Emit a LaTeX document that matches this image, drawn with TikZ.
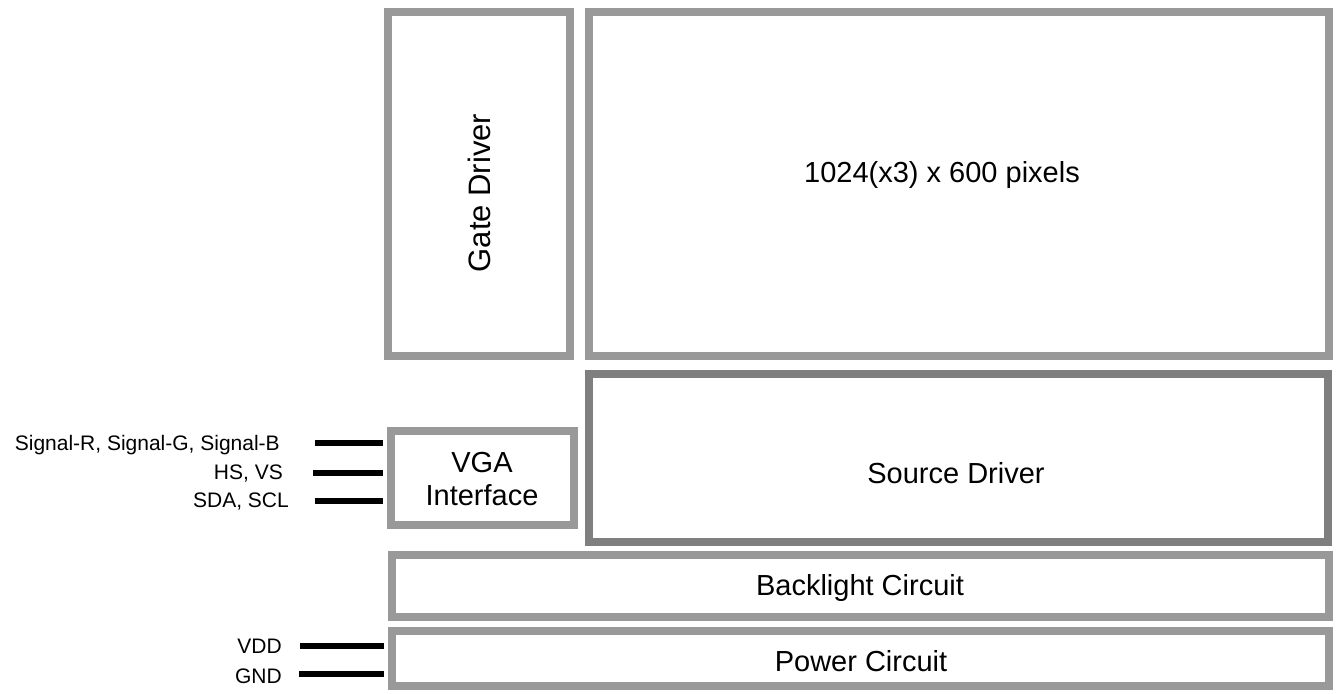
\documentclass[tikz,border=0pt]{standalone}
\usepackage{fontspec}
\setmainfont{Liberation Sans}
\definecolor{boxgray}{HTML}{999999}
\definecolor{darkgray}{HTML}{7F7F7F}
\begin{document}
\begin{tikzpicture}[x=1bp,y=-1bp,
  gbox/.style={draw=boxgray, line width=8bp, rectangle, inner sep=0pt, fill=white},
  dbox/.style={draw=darkgray, line width=8bp, rectangle, inner sep=0pt, fill=white},
  big/.style={font=\fontsize{29bp}{33bp}\selectfont, inner sep=0pt},
  small/.style={font=\fontsize{21bp}{25bp}\selectfont, inner sep=0pt, anchor=base east},
  wire/.style={line width=6bp, black, shorten >=4bp}]
\useasboundingbox (0,0) rectangle (1337,693);
% boxes
\node[gbox, minimum width=182bp, minimum height=344bp] (gate) at (479,184) {};
\node[gbox, minimum width=740bp, minimum height=344bp] (pix) at (959,184) {};
\node[dbox, minimum width=739bp, minimum height=168bp] (src) at (958.5,458) {};
\node[gbox, minimum width=183bp, minimum height=94bp] (vga) at (482.5,478) {};
\node[gbox, minimum width=937bp, minimum height=62bp] (back) at (860.5,586) {};
\node[gbox, minimum width=937bp, minimum height=55bp] (pow) at (860.5,658.5) {};
% texts
\node[big, anchor=base] (pixt) at (942,182) {1024(x3) x 600 pixels};
\node[big, anchor=base, rotate=90, font=\fontsize{31bp}{35bp}\selectfont] (gatet) at (490,193) {Gate Driver};
\node[big, anchor=base] (srct) at (956,483) {Source Driver};
\node[big, anchor=base] (vgat1) at (482,472) {VGA};
\node[big, anchor=base] (vgat2) at (482,505) {Interface};
\node[big, anchor=base] (backt) at (860,595) {Backlight Circuit};
\node[big, anchor=base] (powt) at (861,671) {Power Circuit};
% signal labels
\node[small] (lsig) at (280,450) {Signal-R, Signal-G, Signal-B};
\node[small] (lhs) at (283,479) {HS, VS};
\node[small] (lsda) at (289,507) {SDA, SCL};
\node[small] (lvdd) at (282,653) {VDD};
\node[small] (lgnd) at (282,683) {GND};
% wire ends
\coordinate (csig) at (315,443);
\coordinate (chs) at (313,473);
\coordinate (csda) at (315,501);
\coordinate (cvdd) at (300,646);
\coordinate (cgnd) at (299,674);
\draw[wire] (csig) -- (csig -| vga.west);
\draw[wire] (chs) -- (chs -| vga.west);
\draw[wire] (csda) -- (csda -| vga.west);
\draw[wire] (cvdd) -- (cvdd -| pow.west);
\draw[wire] (cgnd) -- (cgnd -| pow.west);
\end{tikzpicture}
\end{document}
